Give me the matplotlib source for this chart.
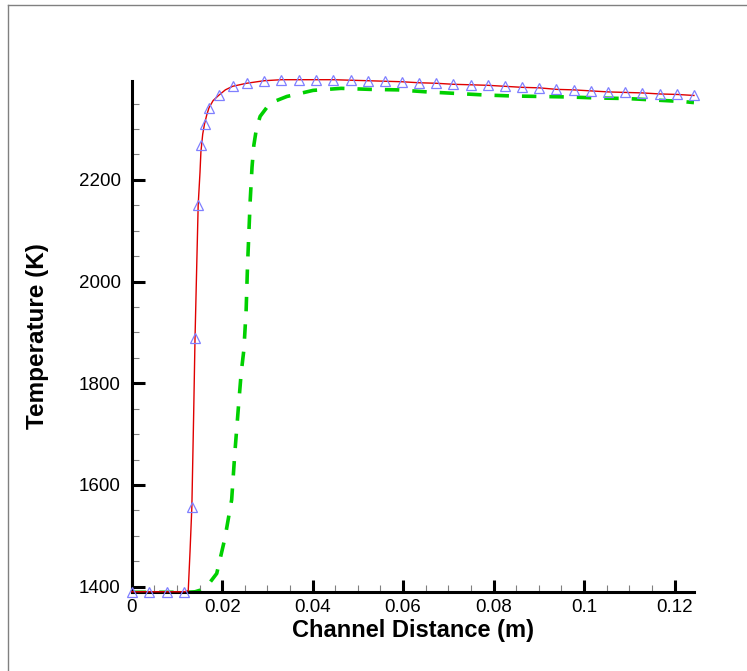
import matplotlib
matplotlib.use("Agg")
import matplotlib.pyplot as plt
from matplotlib.lines import Line2D
from matplotlib.ticker import MultipleLocator, FuncFormatter

plt.rcParams['font.family'] = ['Liberation Sans', 'DejaVu Sans']

# red solid line
red_x = [0.0, 0.0116, 0.0125, 0.0129, 0.0133, 0.0137, 0.0140, 0.0144, 0.0147, 0.0151,
         0.0153, 0.0157, 0.0161, 0.0166, 0.0171, 0.0180, 0.0192, 0.0207, 0.0223, 0.0254,
         0.0293, 0.0331, 0.0369, 0.0408, 0.0446, 0.0484, 0.0522, 0.0559, 0.0597, 0.0635,
         0.0673, 0.0711, 0.0749, 0.0787, 0.0825, 0.0863, 0.0901, 0.0939, 0.0977, 0.1015,
         0.1053, 0.1091, 0.1129, 0.1167, 0.1206, 0.1243]
red_T = [1390, 1390, 1392, 1470, 1557, 1740, 1889, 2040, 2151, 2215,
         2255, 2290, 2310, 2328, 2342, 2356, 2366, 2377, 2384, 2390,
         2395, 2397, 2397, 2397, 2397, 2396, 2395, 2394, 2393, 2391,
         2390, 2388, 2387, 2386, 2384, 2382, 2381, 2378, 2377, 2375,
         2373, 2372, 2371, 2369, 2368, 2366]

# triangle markers
tri_x = [0.0, 0.0039, 0.0077, 0.0116, 0.0133, 0.0140, 0.0147, 0.0153, 0.0161, 0.0171,
         0.0192, 0.0223, 0.0254, 0.0293, 0.0331, 0.0369, 0.0408, 0.0446, 0.0484, 0.0522,
         0.0559, 0.0597, 0.0635, 0.0673, 0.0711, 0.0749, 0.0787, 0.0825, 0.0863, 0.0901,
         0.0939, 0.0977, 0.1015, 0.1053, 0.1091, 0.1129, 0.1167, 0.1206, 0.1243]
tri_T = [1390, 1390, 1390, 1390, 1557, 1889, 2151, 2268, 2310, 2342,
         2366, 2384, 2391, 2395, 2397, 2397, 2397, 2397, 2396, 2395,
         2394, 2393, 2391, 2390, 2388, 2387, 2386, 2384, 2382, 2381,
         2378, 2377, 2375, 2373, 2372, 2371, 2369, 2368, 2366]

# green dashed line
grn_x = [0.0, 0.0120, 0.0140, 0.0151, 0.0170, 0.0188, 0.0206, 0.0221, 0.0228, 0.0236,
         0.0242, 0.0248, 0.0253, 0.0256, 0.0259, 0.0262, 0.0266, 0.0270, 0.0276, 0.0284,
         0.0306, 0.0343, 0.0401, 0.0463, 0.0527, 0.0589, 0.0653, 0.0717, 0.0779, 0.0841,
         0.0905, 0.0969, 0.1031, 0.1095, 0.1157, 0.1219, 0.1243]
grn_T = [1389, 1389, 1390, 1393, 1405, 1426, 1495, 1571, 1663, 1754,
         1820, 1866, 1944, 2030, 2095, 2160, 2225, 2268, 2302, 2325,
         2351, 2364, 2376, 2380, 2378, 2377, 2373, 2370, 2367, 2365,
         2364, 2363, 2361, 2360, 2357, 2354, 2352]

fig = plt.figure(figsize=(7.47, 6.71), dpi=100)
ax = fig.add_axes([0.1763, 0.1173, 0.9290 - 0.1763, 0.8797 - 0.1173])

ax.plot(grn_x, grn_T, color='#00d000', lw=2.6, dashes=(4, 3.6), zorder=2)
ax.plot(red_x, red_T, color='#e00000', lw=1.0, zorder=3, clip_on=False)
ax.plot(tri_x, tri_T, ls='none', marker='^', ms=6.5, mfc='none', mec='#7f7fff',
        mew=0.9, zorder=4, clip_on=False)

ax.set_xlim(0, 0.1243)
ax.set_ylim(1389, 2395)

for s in ['top', 'right']:
    ax.spines[s].set_visible(False)
for s in ['left', 'bottom']:
    ax.spines[s].set_linewidth(2.2)

ax.xaxis.set_major_locator(MultipleLocator(0.02))
ax.xaxis.set_minor_locator(MultipleLocator(0.005))
ax.yaxis.set_major_locator(MultipleLocator(200))
ax.yaxis.set_minor_locator(MultipleLocator(50))
ax.xaxis.set_major_formatter(FuncFormatter(lambda v, p: ('%g' % round(v, 4))))

ax.tick_params(which='major', direction='in', length=9, width=2.2, labelsize=13.5,
               color='black')
ax.tick_params(axis='y', which='major', pad=8)
ax.tick_params(axis='x', which='major', pad=5)
ax.tick_params(which='minor', direction='in', length=5, width=0.8, color='#808080')

ax.set_xlabel('Channel Distance (m)', fontsize=17, fontweight='bold', labelpad=2)
ax.set_ylabel('Temperature (K)', fontsize=17.5, fontweight='bold', labelpad=21)

# outer frame (top and left edges)
fig.add_artist(Line2D([8 / 747, 8 / 747], [0, 1 - 5 / 671], color='#808080', lw=1))
fig.add_artist(Line2D([8 / 747, 1], [1 - 5 / 671, 1 - 5 / 671], color='#808080', lw=1))

fig.savefig('out.png', dpi=100)
